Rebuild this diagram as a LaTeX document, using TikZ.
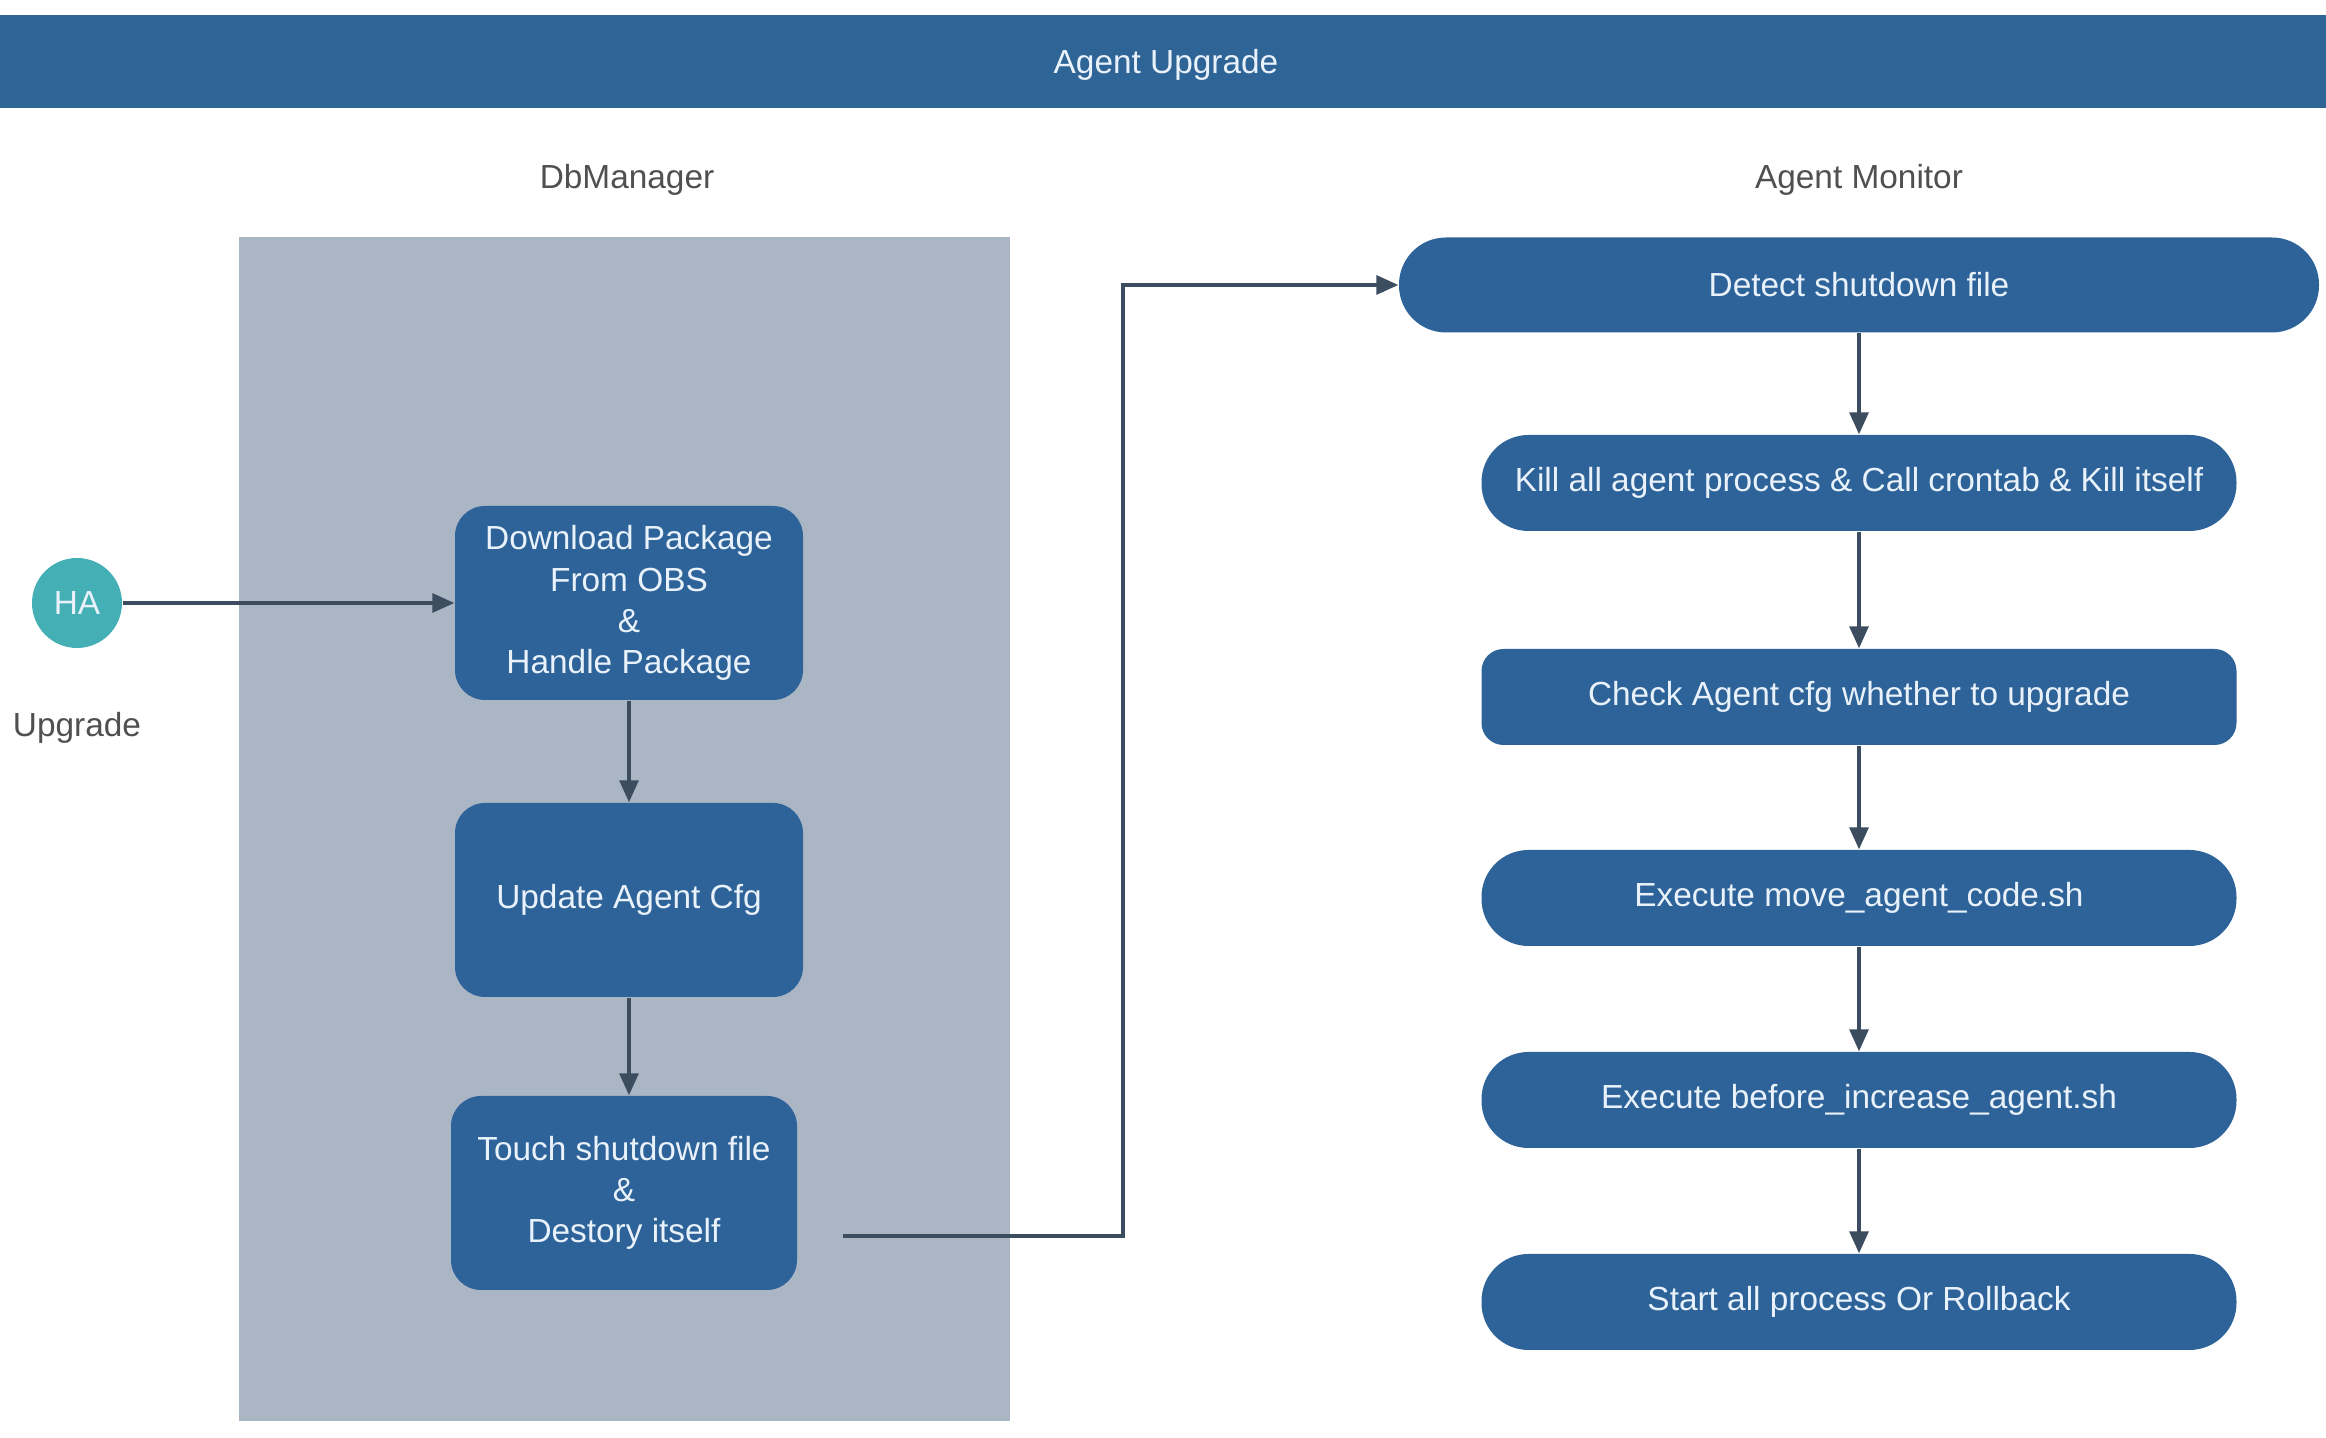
\documentclass[tikz,border=0pt]{standalone}
\usepackage{fontspec}
\setmainfont{Liberation Sans}
\usetikzlibrary{arrows.meta}
\definecolor{barblue}{HTML}{2E6496}
\definecolor{boxblue}{HTML}{2D6398}
\definecolor{lanegray}{HTML}{ABB6C5}
\definecolor{hateal}{HTML}{45AFB6}
\definecolor{linegray}{HTML}{3D4D60}
\definecolor{boxtext}{HTML}{E9F1FA}
\definecolor{labelgray}{HTML}{505050}

\begin{document}
\begin{tikzpicture}[font=\fontsize{9.5}{11.7}\selectfont,
    >={Triangle[length=2.2mm,width=1.9mm]},
    flow/.style={->, draw=linegray, line width=0.9pt},
    task/.style={fill=boxblue, text=boxtext, align=center, rounded corners=0.3cm,
                 minimum width=3.48cm, minimum height=1.94cm},
    pill/.style={fill=boxblue, text=boxtext, rounded corners=0.47cm,
                 minimum width=7.55cm, minimum height=0.96cm}]
    \useasboundingbox (0,0) rectangle (23.26,14.38);
    \fill [barblue] (0,13.30) rectangle (23.26,14.23);
    \fill [lanegray] (2.39,0.17) rectangle (10.10,12.01);
    \path (11.66,13.73) node (title) [text=boxtext] {Agent Upgrade}
          (6.27,12.58) node (dbm) [text=labelgray] {DbManager}
          (18.59,12.58) node (mon) [text=labelgray] {Agent Monitor}
          (0.77,7.10) node (upg) [text=labelgray] {Upgrade};
    \node (ha) [circle, fill=hateal, text=boxtext, minimum size=0.9cm, inner sep=0pt] at (0.77,8.35) {HA};
    % DbManager side
    \node (dl) [task] at (6.29,8.35) {Download Package\\From OBS\\\&\\Handle Package};
    \node (cfg) [task] at (6.29,5.38) {Update Agent Cfg};
    \node (touch) [task, minimum width=3.46cm] at (6.24,2.45) {Touch shutdown file\\\&\\Destory itself};
    \coordinate (tail) at (8.43,2.02);
    % Agent Monitor side
    \node (detect) [pill, minimum width=9.2cm, minimum height=0.95cm] at (18.59,11.53) {Detect shutdown file};
    \node (kill) [pill] at (18.59,9.55) {Kill all agent process \& Call crontab \& Kill itself};
    \node (check) [pill, rounded corners=0.22cm] at (18.59,7.41) {Check Agent cfg whether to upgrade};
    \node (move) [pill] at (18.59,5.40) {Execute move\_agent\_code.sh};
    \node (before) [pill] at (18.59,3.38) {Execute before\_increase\_agent.sh};
    \node (start) [pill] at (18.59,1.36) {Start all process Or Rollback};
    \draw [flow] (ha) -- (dl);
    \draw [flow] (dl) -- (cfg);
    \draw [flow] (cfg.south) -- (cfg.south |- touch.north);
    \draw [flow] (tail) -- ++(2.8,0) |- (detect.west);
    \draw [flow] (detect) -- (kill);
    \draw [flow] (kill) -- (check);
    \draw [flow] (check) -- (move);
    \draw [flow] (move) -- (before);
    \draw [flow] (before) -- (start);
\end{tikzpicture}
\end{document}
